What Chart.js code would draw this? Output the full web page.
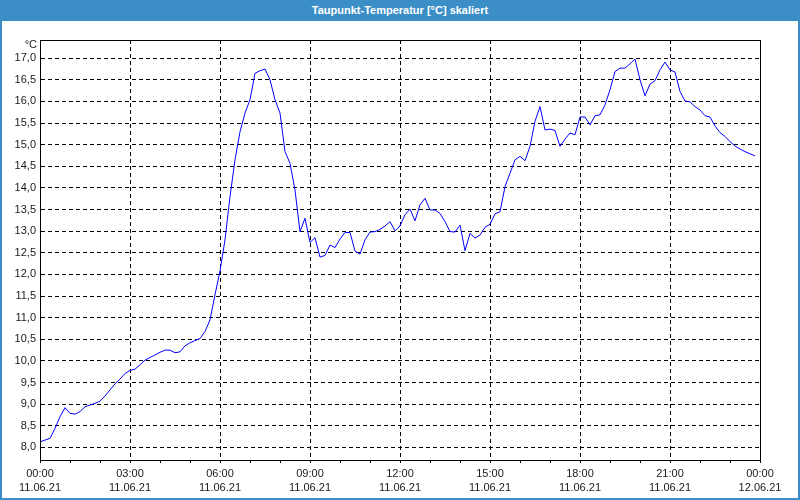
<!DOCTYPE html>
<html>
<head>
<meta charset="utf-8">
<script src="https://cdn.jsdelivr.net/npm/chart.js@4.4.1/dist/chart.umd.min.js"></script>
<style>
    body { margin: 0; background: #fff; }
    #page { position: relative; width: 800px; height: 500px; }
    #dewChart { position: absolute; left: 0; top: 0; }
    #frame { position: absolute; left: 0; top: 0; width: 800px; height: 500px; box-sizing: border-box;
             border: 2px solid #3c8fc6; pointer-events: none; }
    #title { position: absolute; left: 0; top: 0; width: 800px; height: 21px; background: #3c8fc6;
             color: #fff; font: bold 11px "Liberation Sans", sans-serif; text-align: center; line-height: 20px; }
</style>
</head>
<body>
<div id="page">
    <canvas id="dewChart" width="800" height="500"></canvas>
    <div id="frame"></div>
    <div id="title">Taupunkt-Temperatur [°C] skaliert</div>
</div>
<script>
// minutes since 11.06.21 00:00
var minutes = [
    0, 10, 20, 30, 40, 50, 60, 70, 80, 90, 100, 110,
    120, 130, 140, 150, 160, 170, 180, 190, 200, 210, 220, 230,
    240, 250, 260, 270, 280, 290, 300, 310, 320, 330, 340, 350,
    360, 370, 380, 390, 400, 410, 420, 430, 440, 450, 460, 470,
    480, 490, 500, 510, 520, 530, 540, 550, 560, 570, 580, 590,
    600, 610, 620, 630, 640, 650, 660, 670, 680, 690, 700, 710,
    720, 730, 740, 750, 760, 770, 780, 790, 800, 810, 820, 830,
    840, 850, 860, 870, 880, 890, 900, 910, 920, 930, 940, 950,
    960, 970, 980, 990, 1000, 1010, 1020, 1030, 1040, 1050, 1060, 1070,
    1080, 1090, 1100, 1110, 1120, 1130, 1140, 1150, 1160, 1170, 1180, 1190,
    1200, 1210, 1220, 1230, 1240, 1250, 1260, 1270, 1280, 1290, 1300, 1310,
    1320, 1330, 1340, 1350, 1360, 1370, 1380, 1390, 1400, 1410, 1420, 1430
];

// Taupunkt in °C
var dewPoint = [
    8.13, 8.17, 8.21, 8.44, 8.71, 8.92, 8.79, 8.77, 8.83, 8.94, 8.98, 9.02,
    9.07, 9.19, 9.33, 9.47, 9.58, 9.71, 9.78, 9.81, 9.91, 10.02, 10.08, 10.14,
    10.20, 10.25, 10.25, 10.19, 10.21, 10.35, 10.42, 10.47, 10.52, 10.68, 10.95, 11.53,
    12.08, 12.80, 13.80, 14.65, 15.30, 15.73, 16.04, 16.65, 16.71, 16.75, 16.50, 16.04,
    15.73, 14.84, 14.57, 13.95, 12.99, 13.30, 12.74, 12.85, 12.40, 12.44, 12.68, 12.62,
    12.82, 12.97, 12.97, 12.54, 12.47, 12.80, 12.98, 12.99, 13.04, 13.12, 13.22, 13.01,
    13.12, 13.38, 13.51, 13.24, 13.61, 13.76, 13.49, 13.49, 13.41, 13.22, 12.99, 12.98,
    13.14, 12.55, 12.95, 12.84, 12.91, 13.09, 13.16, 13.40, 13.45, 14.03, 14.34, 14.65,
    14.73, 14.63, 14.96, 15.54, 15.88, 15.34, 15.36, 15.33, 14.96, 15.13, 15.27, 15.23,
    15.64, 15.64, 15.46, 15.67, 15.69, 15.92, 16.27, 16.69, 16.77, 16.77, 16.87, 16.98,
    16.50, 16.13, 16.40, 16.48, 16.73, 16.91, 16.73, 16.68, 16.23, 16.01, 15.99, 15.88,
    15.80, 15.67, 15.64, 15.43, 15.28, 15.19, 15.07, 14.97, 14.90, 14.84, 14.79, 14.74
];

var yTicks = [8.0, 8.5, 9.0, 9.5, 10.0, 10.5, 11.0, 11.5, 12.0, 12.5, 13.0, 13.5,
              14.0, 14.5, 15.0, 15.5, 16.0, 16.5, 17.0];
var xTicks = [0, 60, 120, 180, 240, 300, 360, 420, 480, 540, 600, 660, 720, 780, 840,
              900, 960, 1020, 1080, 1140, 1200, 1260, 1320, 1380, 1440];
var timeLabels = ['00:00', '03:00', '06:00', '09:00', '12:00', '15:00', '18:00', '21:00', '00:00'];
var dateLabels = ['11.06.21', '11.06.21', '11.06.21', '11.06.21', '11.06.21', '11.06.21', '11.06.21', '11.06.21', '12.06.21'];

var points = minutes.map(function(m, i) { return { x: m, y: dewPoint[i] }; });

var tickFont = { family: '"Liberation Sans", sans-serif', size: 11, lineHeight: 1.36 };

// frame round the plot and the unit label
var plotExtras = {
    id: 'plotExtras',
    afterDraw: function(chart) {
        var a = chart.chartArea, ctx = chart.ctx;
        ctx.save();
        ctx.strokeStyle = '#000';
        ctx.lineWidth = 1;
        ctx.strokeRect(a.left + 0.5, a.top + 0.5, a.right - a.left, a.bottom - a.top);
        ctx.fillStyle = '#1a1a1a';
        ctx.font = '11px "Liberation Sans", sans-serif';
        ctx.textAlign = 'right';
        ctx.textBaseline = 'middle';
        ctx.fillText('°C', a.left - 3, a.top + 5);
        ctx.restore();
    }
};

var ctx = document.getElementById('dewChart').getContext('2d');
var dewChart = new Chart(ctx, {
    type: 'line',
    data: {
        datasets: [{
            data: points,
            borderColor: '#0000ff',
            borderWidth: 1,
            pointRadius: 0,
            tension: 0,
            fill: false
        }]
    },
    options: {
        responsive: false,
        animation: false,
        layout: { padding: { left: 0, top: 40, right: 40, bottom: 0 } },
        plugins: { legend: { display: false }, tooltip: { enabled: false } },
        scales: {
            x: {
                type: 'linear',
                min: 0,
                max: 1440,
                afterBuildTicks: function(scale) {
                    scale.ticks = xTicks.map(function(v) { return { value: v }; });
                },
                afterFit: function(scale) { scale.height = 40; },
                grid: {
                    color: function(c) { return c.tick && c.tick.value % 180 === 0 ? '#000' : 'rgba(0,0,0,0)'; },
                    tickColor: '#000',
                    tickLength: 3,
                    lineWidth: 1
                },
                border: { display: true, color: '#000', width: 1, dash: [4, 3] },
                ticks: {
                    autoSkip: false,
                    maxRotation: 0,
                    padding: 3,
                    color: '#1a1a1a',
                    font: tickFont,
                    callback: function(v) {
                        if (v % 180 !== 0) return '';
                        var i = v / 180;
                        return [timeLabels[i], dateLabels[i]];
                    }
                }
            },
            y: {
                min: 7.71,
                max: 17.42,
                afterBuildTicks: function(scale) {
                    scale.ticks = yTicks.map(function(v) { return { value: v }; });
                },
                afterFit: function(scale) { scale.width = 40; },
                grid: { color: '#000', lineWidth: 1, drawTicks: false },
                border: { display: true, color: '#000', width: 1, dash: [4, 3] },
                ticks: {
                    padding: 4,
                    color: '#1a1a1a',
                    font: tickFont,
                    callback: function(v) { return v.toFixed(1).replace('.', ','); }
                }
            }
        }
    },
    plugins: [plotExtras]
});
</script>
</body>
</html>
